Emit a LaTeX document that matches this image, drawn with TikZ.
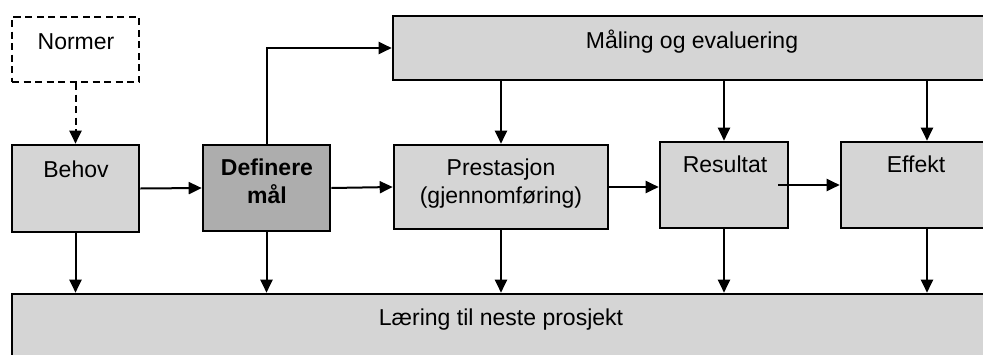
\documentclass[tikz,border=0pt]{standalone}
\usepackage{fontspec}
\setmainfont{Liberation Sans}
\usetikzlibrary{arrows.meta}

\definecolor{boxgray}{HTML}{D5D5D5}
\definecolor{darkgray}{HTML}{ADADAD}

\tikzset{
  box/.style={draw=black, line width=2.6pt, fill=boxgray, rectangle, inner sep=0pt},
  darkbox/.style={box, fill=darkgray},
  dashbox/.style={draw=black, line width=2.4pt, fill=white, rectangle, inner sep=0pt,
                  dash pattern=on 7pt off 4.5pt},
  lbl/.style={font=\fontsize{23}{27.5}\selectfont, inner sep=0pt, anchor=base, align=center},
  flow/.style={line width=2pt, -{Triangle[length=13pt,width=12pt]}},
}

\begin{document}
\begin{tikzpicture}[x=1pt, y=-1pt]
  \clip (0,0) rectangle (983,354);
  \fill[white] (0,0) rectangle (983,354);

  % boxes
  \node[dashbox, minimum width=127pt, minimum height=65pt] (norm) at (75.5,49.5) {};
  \node[box, minimum width=127pt, minimum height=87pt] (behov) at (75.5,188.5) {};
  \node[darkbox, minimum width=127pt, minimum height=86pt] (def) at (266.5,188) {};
  \node[box, minimum width=214pt, minimum height=84pt] (prest) at (501,187) {};
  \node[box, minimum width=128pt, minimum height=86pt] (res) at (724,185) {};
  \node[box, minimum width=172pt, minimum height=86pt] (eff) at (927,185) {};
  \node[box, minimum width=617pt, minimum height=64pt] (maal) at (701.5,48) {};
  \node[box, minimum width=998pt, minimum height=86pt] (laer) at (511,337) {};

  % labels (multi-line labels are placed by the baseline of their last line)
  \node[lbl] (tnorm) at (76,49) {Normer};
  \node[lbl] (tbehov) at (76,177) {Behov};
  \node[lbl, font=\fontsize{23}{27.5}\selectfont\bfseries] (tdef) at (267,203) {Definere\\mål};
  \node[lbl] (tprest) at (501,203) {Prestasjon\\(gjennomføring)};
  \node[lbl] (tres) at (725,172) {Resultat};
  \node[lbl] (teff) at (916,172) {Effekt};
  \node[lbl] (tmaal) at (692,48) {Måling og evaluering};
  \node[lbl] (tlaer) at (501,325) {Læring til neste prosjekt};

  % connectors
  \coordinate (resout) at ([xshift=-11pt]res.east);
  \draw[flow, dash pattern=on 7pt off 4.5pt] (norm.south) -- (behov.north);
  \draw[flow] (behov.east) -- (def.west);
  \draw[flow] (def.east) -- (prest.west);
  \draw[flow] (prest.east) -- (prest.east -| res.west);
  \draw[flow] (resout) -- (resout -| eff.west);
  \draw[flow] (def.north) |- (maal.west);

  \draw[flow] (prest.north |- maal.south) -- (prest.north);
  \draw[flow] (res.north |- maal.south) -- (res.north);
  \draw[flow] (eff.north |- maal.south) -- (eff.north);

  \draw[flow] (behov.south) -- (behov.south |- laer.north);
  \draw[flow] (def.south) -- (def.south |- laer.north);
  \draw[flow] (prest.south) -- (prest.south |- laer.north);
  \draw[flow] (res.south) -- (res.south |- laer.north);
  \draw[flow] (eff.south) -- (eff.south |- laer.north);
\end{tikzpicture}
\end{document}
